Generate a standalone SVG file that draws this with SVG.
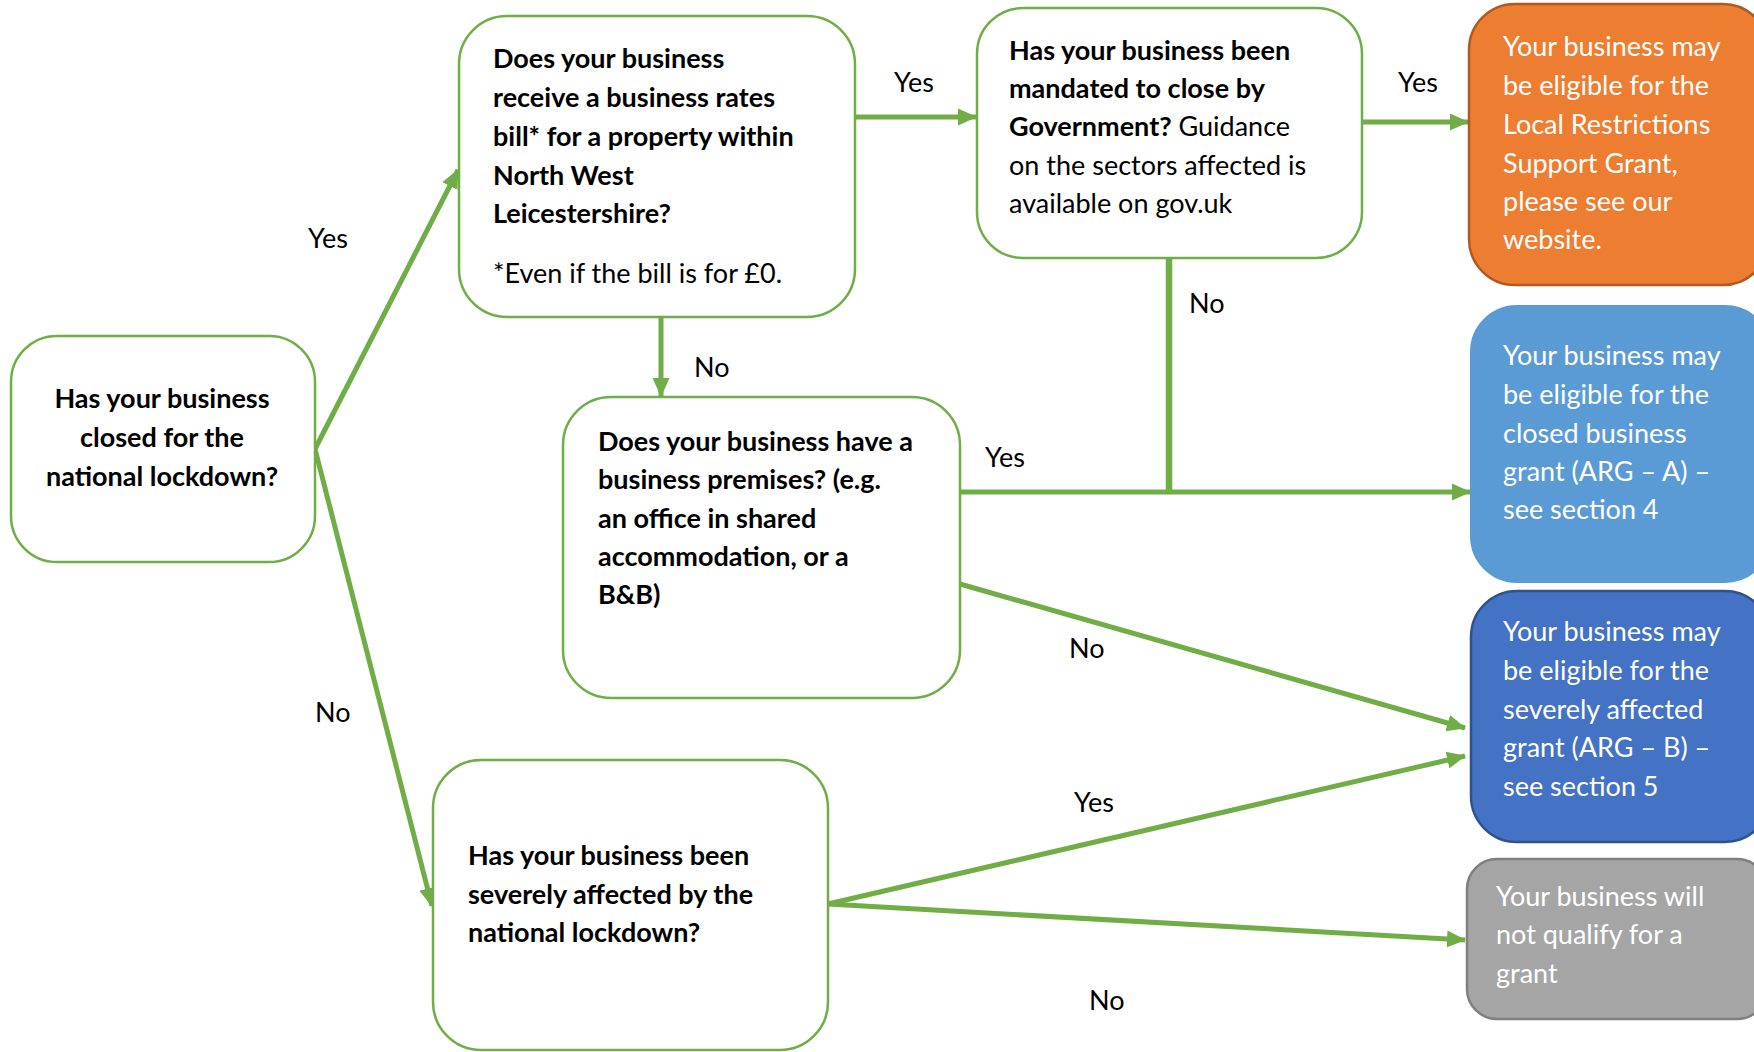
<svg xmlns="http://www.w3.org/2000/svg" width="1754" height="1052" viewBox="0 0 1754 1052">
<defs>
<marker id="arr" markerUnits="userSpaceOnUse" markerWidth="19" markerHeight="19" refX="18" refY="9.5" orient="auto">
<path d="M0,1 L19,9.5 L0,18 Z" fill="#70AD47"/>
</marker>
<style>
.q{fill:#fff;stroke:#70AD47;stroke-width:2.5}
.t{font-family:Lato,"Open Sans","Liberation Sans",sans-serif;font-size:27px;fill:#000}
.b{font-weight:bold}
.w{fill:#fff}
.c{stroke:#70AD47;stroke-width:6.5;fill:none}
.ca{stroke:#70AD47;stroke-width:5;fill:none;marker-end:url(#arr)}
.l{font-family:Lato,"Open Sans","Liberation Sans",sans-serif;font-size:27px;fill:#000}
</style>
</defs>
<rect width="1754" height="1052" fill="#fff"/>
<g id="connectors">
<line class="ca" x1="315" y1="449" x2="458" y2="170"/>
<line class="ca" x1="315" y1="449" x2="432" y2="906"/>
<line class="ca" x1="661" y1="317" x2="661" y2="396"/>
<line class="ca" x1="855" y1="117" x2="976" y2="117"/>
<line class="ca" x1="1362" y1="122" x2="1468" y2="122"/>
<line class="c" x1="1169" y1="258" x2="1169" y2="494"/>
<line class="ca" x1="960" y1="492" x2="1470" y2="492"/>
<line class="ca" x1="960" y1="584" x2="1465" y2="728"/>
<line class="ca" x1="828" y1="904" x2="1465" y2="756"/>
<line class="ca" x1="828" y1="904" x2="1465" y2="940"/>
<text class="l" x="308" y="248">Yes</text>
<text class="l" x="315" y="722">No</text>
<text class="l" x="694" y="377">No</text>
<text class="l" x="894" y="92">Yes</text>
<text class="l" x="1398" y="92">Yes</text>
<text class="l" x="1189" y="313">No</text>
<text class="l" x="985" y="467">Yes</text>
<text class="l" x="1069" y="658">No</text>
<text class="l" x="1074" y="812">Yes</text>
<text class="l" x="1089" y="1010">No</text>
</g>
<g id="n-closed">
<rect class="q" x="11" y="336" width="304" height="226" rx="46"/>
<text class="t b" text-anchor="middle"><tspan x="162" y="408">Has your business</tspan><tspan x="162" y="447">closed for the</tspan><tspan x="162" y="486">national lockdown?</tspan></text>
</g>
<g id="n-rates">
<rect class="q" x="459" y="16" width="396" height="301" rx="48"/>
<text class="t b"><tspan x="493" y="68">Does your business</tspan><tspan x="493" y="107">receive a business rates</tspan><tspan x="493" y="146">bill* for a property within</tspan><tspan x="493" y="185">North West</tspan><tspan x="493" y="223">Leicestershire?</tspan></text>
<text class="t" x="493" y="283">*Even if the bill is for £0.</text>
</g>
<g id="n-mandated">
<rect class="q" x="977" y="8" width="385" height="250" rx="46"/>
<text class="t"><tspan class="b" x="1009" y="60">Has your business been</tspan><tspan class="b" x="1009" y="98">mandated to close by</tspan><tspan x="1009" y="136"><tspan class="b">Government?</tspan> Guidance</tspan><tspan x="1009" y="175">on the sectors affected is</tspan><tspan x="1009" y="213">available on gov.uk</tspan></text>
</g>
<g id="n-premises">
<rect class="q" x="563" y="397" width="397" height="301" rx="48"/>
<text class="t b"><tspan x="598" y="451">Does your business have a</tspan><tspan x="598" y="489">business premises? (e.g.</tspan><tspan x="598" y="528">an office in shared</tspan><tspan x="598" y="566">accommodation, or a</tspan><tspan x="598" y="604">B&amp;B)</tspan></text>
</g>
<g id="n-severe">
<rect class="q" x="433" y="760" width="395" height="290" rx="48"/>
<text class="t b"><tspan x="468" y="865">Has your business been</tspan><tspan x="468" y="904">severely affected by the</tspan><tspan x="468" y="942">national lockdown?</tspan></text>
</g>
<g id="n-lrsg">
<rect x="1469" y="4" width="300" height="281" rx="46" fill="#ED7D31" stroke="#AE5A21" stroke-width="2.5"/>
<text class="t w"><tspan x="1503" y="56">Your business may</tspan><tspan x="1503" y="95">be eligible for the</tspan><tspan x="1503" y="134">Local Restrictions</tspan><tspan x="1503" y="173">Support Grant,</tspan><tspan x="1503" y="211">please see our</tspan><tspan x="1503" y="249">website.</tspan></text>
</g>
<g id="n-arga">
<rect x="1471" y="306" width="300" height="276" rx="46" fill="#5B9BD5" stroke="#5B9BD5" stroke-width="2"/>
<text class="t w"><tspan x="1503" y="365">Your business may</tspan><tspan x="1503" y="404">be eligible for the</tspan><tspan x="1503" y="443">closed business</tspan><tspan x="1503" y="481">grant (ARG – A) –</tspan><tspan x="1503" y="519">see section 4</tspan></text>
</g>
<g id="n-argb">
<rect x="1471" y="591" width="300" height="251" rx="46" fill="#4472C4" stroke="#2F528F" stroke-width="2.5"/>
<text class="t w"><tspan x="1503" y="641">Your business may</tspan><tspan x="1503" y="680">be eligible for the</tspan><tspan x="1503" y="719">severely affected</tspan><tspan x="1503" y="757">grant (ARG – B) –</tspan><tspan x="1503" y="796">see section 5</tspan></text>
</g>
<g id="n-none">
<rect x="1467" y="859" width="300" height="160" rx="30" fill="#A5A5A5" stroke="#7F7F7F" stroke-width="2.5"/>
<text class="t w"><tspan x="1496" y="906">Your business will</tspan><tspan x="1496" y="944">not qualify for a</tspan><tspan x="1496" y="983">grant</tspan></text>
</g>
</svg>
